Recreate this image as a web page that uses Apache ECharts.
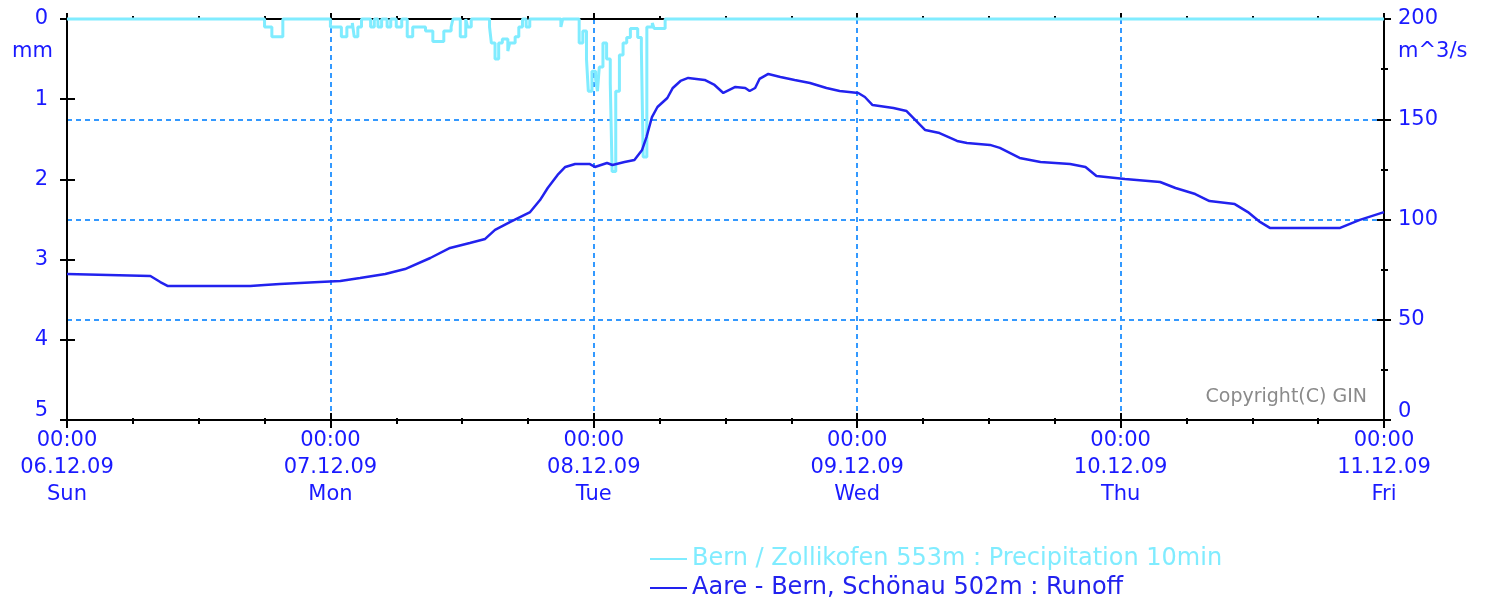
<!DOCTYPE html>
<html>
<head>
<meta charset="utf-8">
<script src="https://cdn.jsdelivr.net/npm/echarts@6/dist/echarts.min.js"></script>
<style>html,body{margin:0;padding:0;background:#fff}#c{width:1485px;height:600px}</style>
</head>
<body>
<div id="c"></div>
<script>
// X tick labels (one per day, axis in hours from 06.12.09 00:00)
const timeLabels = ['00:00','00:00','00:00','00:00','00:00','00:00'];
const dateLabels = ['06.12.09','07.12.09','08.12.09','09.12.09','10.12.09','11.12.09'];
const dayLabels  = ['Sun','Mon','Tue','Wed','Thu','Fri'];

const seriesNames = ['Bern / Zollikofen 553m : Precipitation 10min', 'Aare - Bern, Schönau 502m : Runoff'];

// Precipitation (mm per 10 min): [minutes since start, value held until next change]
const precipChanges = [
  [0,0],
  [1080,0.1],[1120,0.22],[1180,0],
  [1440,0.1],[1500,0.22],[1530,0.1],[1560,0.05],[1570,0.22],[1590,0.1],[1610,0],
  [1660,0.1],[1680,0],[1700,0.1],[1720,0],[1750,0.1],[1770,0],[1800,0.1],[1830,0],
  [1860,0.22],[1890,0.1],[1960,0.15],[2000,0.28],[2060,0.15],[2100,0.1],[2110,0],
  [2150,0.22],[2180,0],[2190,0.1],[2210,0],
  [2310,0.1],[2320,0.3],[2340,0.5],[2360,0.3],[2380,0.25],[2410,0.4],[2420,0.3],[2450,0.22],[2470,0.1],[2490,0],
  [2510,0.1],[2530,0],[2700,0.1],[2710,0],
  [2800,0.3],[2820,0.15],[2840,0.5],[2850,0.9],[2870,0.65],[2890,0.75],[2900,0.9],[2910,0.6],[2930,0.3],
  [2950,0.5],[2970,0.8],[2980,1.9],[3000,0.9],[3020,0.45],[3040,0.3],[3060,0.23],[3080,0.12],[3120,0.23],
  [3140,0.37],[3150,1.72],[3170,0.1],[3200,0.05],[3210,0.12],[3270,0],
  [7200,0]
];

// Runoff (m^3/s): [hours since start, value]
const runoffPoints = [
  [0,72.8],[7.6,71.8],[8.5,68.8],[9.2,66.8],[16.7,66.8],[18.0,67.3],[19.4,67.8],[23.0,68.8],[24.9,69.3],
  [26.7,70.8],[29.0,72.8],[30.8,75.3],[33.1,80.8],[34.9,85.8],[36.7,88.3],[38.1,90.3],[39.0,94.8],[40.4,98.8],
  [42.2,103.7],[43.1,109.7],[43.8,115.7],[44.7,122.2],[45.4,126.2],[46.3,127.7],[47.6,127.7],[48.1,126.2],
  [49.2,128.2],[49.7,127.2],[50.8,128.7],[51.7,129.7],[52.4,134.7],[52.8,141.1],[53.3,151.1],[53.8,156.1],
  [54.7,160.6],[55.2,165.6],[55.9,169.1],[56.6,170.6],[58.1,169.6],[59.0,167.1],[59.8,163.1],[60.9,166.1],
  [61.8,165.6],[62.2,164.1],[62.7,165.6],[63.1,170.1],[63.9,172.6],[65.0,171.1],[66.3,169.6],[67.7,168.1],
  [69.2,165.6],[70.4,164.1],[72.1,163.1],[72.7,161.1],[73.4,157.1],[75.3,155.6],[76.5,154.1],[78.2,144.6],
  [79.5,143.1],[81.1,139.2],[82.0,138.2],[84.1,137.2],[85.0,135.7],[86.8,130.7],[88.7,128.7],[91.4,127.7],
  [92.8,126.2],[93.8,121.7],[96.4,120.2],[99.6,118.7],[101.0,115.7],[102.8,112.7],[104.1,109.2],[106.4,107.7],
  [107.6,103.7],[108.7,98.8],[109.6,95.8],[116.0,95.8],[117.8,99.8],[120.0,103.7]
];

const BLUE = '#1a1aff';
const CYAN = '#80ecff';
const RUNOFF = '#2222ee';
const GRIDC = '#3399ff';
const FONT = 'DejaVu Sans';
const FS = 21;

const chart = echarts.init(document.getElementById('c'));
const precipData = precipChanges.map(p => [p[0] / 60, p[1]]);

function legendFor(i, top, color) {
  return {
    orient: 'vertical', left: 650, top: top, padding: 0, itemWidth: 37, itemHeight: 2, icon: 'rect', itemGap: 0,
    textStyle: { fontFamily: FONT, fontSize: 24, color: color },
    data: [{ name: seriesNames[i] }]
  };
}

chart.setOption({
  animation: false,
  backgroundColor: '#fff',
  textStyle: { fontFamily: FONT },
  grid: { left: 67, right: 101, top: 19, bottom: 180, containLabel: false },
  xAxis: [
    { type: 'value', min: 0, max: 120, interval: 24, position: 'bottom', z: 2,
      axisLine: { show: true, onZero: false, lineStyle: { color: '#000', width: 2 } },
      axisTick: { show: true, inside: false, length: 8, lineStyle: { color: '#000', width: 2 } },
      minorTick: { show: true, splitNumber: 4, length: 4, lineStyle: { color: '#000', width: 2 } },
      splitLine: { show: false },
      axisLabel: { color: BLUE, fontSize: FS, fontFamily: FONT, lineHeight: 27, margin: 7,
        formatter: v => { const i = Math.round(v / 24); return timeLabels[i] + '\n' + dateLabels[i] + '\n' + dayLabels[i]; } } },
    { type: 'value', min: 0, max: 120, interval: 24, position: 'bottom', z: 0,
      axisLine: { show: false, onZero: false },
      axisTick: { show: true, inside: true, length: 7, lineStyle: { color: '#000', width: 2 } },
      minorTick: { show: true, splitNumber: 4, length: 2, lineStyle: { color: '#000', width: 2 } },
      splitLine: { show: true, lineStyle: { color: GRIDC, width: 2, type: [5, 4] } },
      axisLabel: { show: false } },
    { type: 'value', min: 0, max: 120, interval: 24, position: 'top', z: 2,
      axisLine: { show: true, onZero: false, lineStyle: { color: '#000', width: 2 } },
      axisTick: { show: true, inside: false, length: 6, lineStyle: { color: '#000', width: 2 } },
      minorTick: { show: true, splitNumber: 4, length: 3, lineStyle: { color: '#000', width: 2 } },
      splitLine: { show: false }, axisLabel: { show: false } }
  ],
  yAxis: [
    { type: 'value', inverse: true, min: 0, max: 5, interval: 1, position: 'left', z: 2,
      axisLine: { show: true, onZero: false, lineStyle: { color: '#000', width: 2 } },
      axisTick: { show: true, inside: false, length: 7, lineStyle: { color: '#000', width: 2 } },
      splitLine: { show: false },
      axisLabel: { color: BLUE, fontSize: FS, fontFamily: FONT, margin: 19,
        formatter: v => v === 5 ? '{s|5}' : String(v),
        rich: { s: { color: BLUE, fontSize: FS, fontFamily: FONT, padding: [0, 0, 18, 0] } } } },
    { type: 'value', inverse: true, min: 0, max: 5, interval: 1, position: 'left', z: 0,
      axisLine: { show: false, onZero: false },
      axisTick: { show: true, inside: true, length: 8, lineStyle: { color: '#000', width: 2 } },
      splitLine: { show: false }, axisLabel: { show: false } },
    { type: 'value', min: 0, max: 200, interval: 50, position: 'right', z: 2,
      axisLine: { show: true, onZero: false, lineStyle: { color: '#000', width: 2 } },
      axisTick: { show: true, inside: false, length: 7, lineStyle: { color: '#000', width: 2 } },
      minorTick: { show: true, splitNumber: 2, length: 4, lineStyle: { color: '#000', width: 2 } },
      splitLine: { show: false },
      axisLabel: { color: BLUE, fontSize: FS, fontFamily: FONT, margin: 14,
        formatter: v => v === 0 ? '{s|0}' : String(v),
        rich: { s: { color: BLUE, fontSize: FS, fontFamily: FONT, padding: [0, 0, 16, 0] } } } },
    { type: 'value', min: 0, max: 200, interval: 50, position: 'right', z: 0,
      axisLine: { show: false, onZero: false },
      axisTick: { show: true, inside: true, length: 7, lineStyle: { color: '#000', width: 2 } },
      minorTick: { show: true, splitNumber: 2, length: 3, lineStyle: { color: '#000', width: 2 } },
      splitLine: { show: true, lineStyle: { color: GRIDC, width: 2, type: [5, 4] } },
      axisLabel: { show: false } }
  ],
  legend: [ legendFor(0, 547, CYAN), legendFor(1, 576, RUNOFF) ],
  graphic: [
    { type: 'text', left: 12, top: 41, style: { text: 'mm', fill: BLUE, font: FS + 'px "DejaVu Sans"' } },
    { type: 'text', left: 1398, top: 41, style: { text: 'm^3/s', fill: BLUE, font: FS + 'px "DejaVu Sans"' } },
    { type: 'text', right: 118, top: 388, style: { text: 'Copyright(C) GIN', fill: '#8a8a8a', font: '19px "DejaVu Sans"' } }
  ],
  series: [
    { name: seriesNames[0], type: 'line', xAxisIndex: 0, yAxisIndex: 0, step: 'end', data: precipData,
      showSymbol: false, symbol: 'none', clip: false, z: 3,
      lineStyle: { color: CYAN, width: 3 }, itemStyle: { color: CYAN } },
    { name: seriesNames[1], type: 'line', xAxisIndex: 0, yAxisIndex: 2, data: runoffPoints,
      showSymbol: false, symbol: 'none', z: 4,
      lineStyle: { color: RUNOFF, width: 2.5 }, itemStyle: { color: RUNOFF } }
  ]
});
</script>
</body>
</html>
